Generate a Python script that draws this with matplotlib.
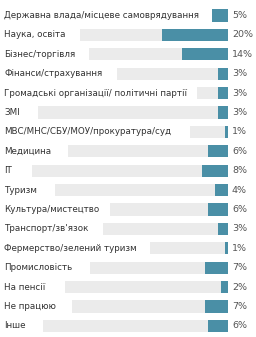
import matplotlib
matplotlib.use("Agg")
import matplotlib.pyplot as plt
from matplotlib import font_manager

categories = [
    "Державна влада/місцеве самоврядування",
    "Наука, освіта",
    "Бізнес/торгівля",
    "Фінанси/страхування",
    "Громадські організації/ політичні партії",
    "ЗМІ",
    "МВС/МНС/СБУ/МОУ/прокуратура/суд",
    "Медицина",
    "IT",
    "Туризм",
    "Культура/мистецтво",
    "Транспорт/зв'язок",
    "Фермерство/зелений туризм",
    "Промисловість",
    "На пенсії",
    "Не працюю",
    "Інше",
]
values = [5, 20, 14, 3, 3, 3, 1, 6, 8, 4, 6, 3, 1, 7, 2, 7, 6]
# length of the light grey track behind each bar, in the same % units
track = [5, 44.8, 42.1, 33.6, 9.4, 57.6, 11.5, 48.5, 59.4, 52.4, 35.8, 37.9, 23.6, 41.8, 49.4, 47.3, 56.1]

names = {f.name for f in font_manager.fontManager.ttflist}
fam = [f for f in ["Liberation Sans Narrow", "DejaVu Sans Condensed", "DejaVu Sans"] if f in names] or ["DejaVu Sans"]

W, H = 256, 337
fig = plt.figure(figsize=(W / 100, H / 100), dpi=100)
ax = fig.add_axes([0, 0, 1, 1])
ax.set_axis_off()

px_per_pct = 3.3
right_px = 228
row0_px = 15.5
row_px = 19.4
ax.set_xlim(right_px / px_per_pct, (right_px - W) / px_per_pct)
ax.set_ylim((H - row0_px) / row_px, -row0_px / row_px)

ys = list(range(len(categories)))
ax.barh(ys, track, height=0.62, left=0, color="#ebebeb", zorder=1)
ax.barh(ys, values, height=0.62, left=0, color="#4a8fa6", zorder=2)

xlab = (right_px - 4) / px_per_pct
for y, c, v in zip(ys, categories, values):
    ax.text(xlab, y, c, ha="left", va="center", fontsize=6.3, color="#333333",
            family=fam, zorder=3)
    ax.text(-4 / px_per_pct, y, f"{v}%", ha="left", va="center", fontsize=6.8,
            color="#555555", family=fam, zorder=3)

fig.savefig("out.png", dpi=100)
